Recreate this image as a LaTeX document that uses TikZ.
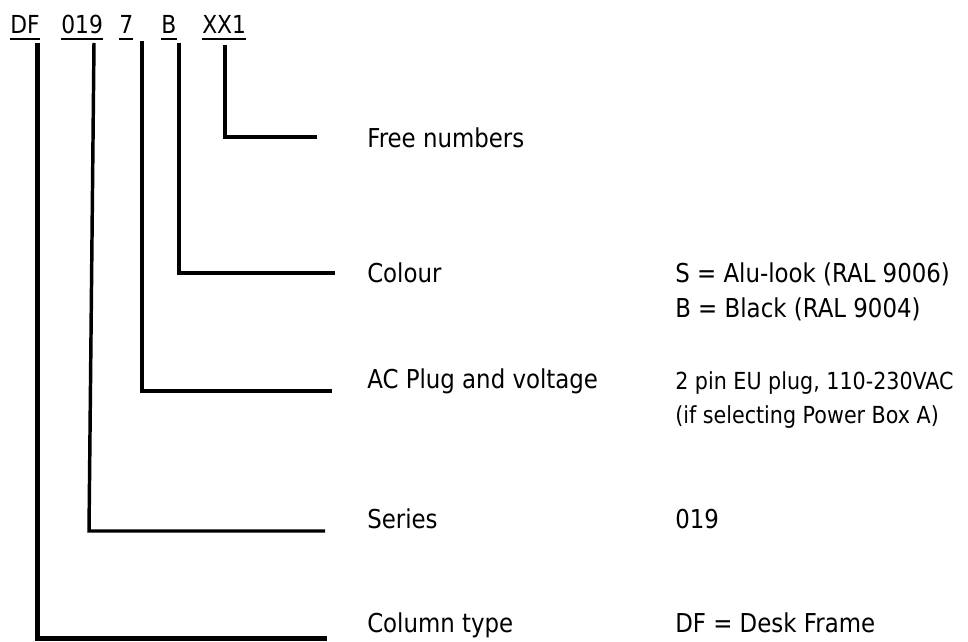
\documentclass[tikz,border=0pt]{standalone}
\usepackage{fontspec}
\setmainfont[FakeStretch=0.88]{DejaVu Sans}
\begin{document}
\begin{tikzpicture}[x=0.75pt, y=-0.75pt,
    code/.style={anchor=base west, inner sep=0pt, font=\fontsize{18.6}{22}\selectfont},
    field/.style={anchor=base west, inner sep=0pt, font=\fontsize{19.5}{23}\selectfont},
    info/.style={anchor=base west, inner sep=0pt, font=\fontsize{17.6}{21}\selectfont},
    uline/.style={line width=1.5pt},
    lead/.style={line width=3pt}]

    \useasboundingbox (0,0) rectangle (968,642);

    % --- Codice articolo (in alto) ---
    \node[code] (df)     at (10,34)  {DF};
    \node[code] (series) at (61,34)  {019};
    \node[code] (plug)   at (119,34) {7};
    \node[code] (colour) at (161,34) {B};
    \node[code] (free)   at (202,34) {XX1};

    % sottolineature
    \foreach \n in {df, series, plug, colour, free}
        \draw[uline] ([yshift=-3.75pt]\n.base west) -- ([yshift=-3.75pt]\n.base east);

    % --- Descrizioni (colonna centrale) ---
    \node[field] (freeTxt)   at (367,147) {Free numbers};
    \node[field] (colourTxt) at (367,282) {Colour};
    \node[field] (plugTxt)   at (367,388) {AC Plug and voltage};
    \node[field] (seriesTxt) at (367,528) {Series};
    \node[field] (dfTxt)     at (367,632) {Column type};

    % --- Valori (colonna destra) ---
    \node[field] (colourS) at (675,282) {S = Alu-look (RAL 9006)};
    \node[field] (colourB) at (675,317) {B = Black (RAL 9004)};
    \node[info]  (plugA)   at (675,389) {2 pin EU plug, 110-230VAC};
    \node[info]  (plugB)   at (675,423) {(if selecting Power Box A)};
    \node[field] (seriesV) at (675,528) {019};
    \node[field] (dfV)     at (675,632) {DF = Desk Frame};

    % --- Linee di richiamo ---
    \coordinate (freeTop)   at (225,45);  \coordinate (freeEnd)   at (317,137);
    \coordinate (colourTop) at (179,43);  \coordinate (colourEnd) at (335,273);
    \coordinate (plugTop)   at (142,41);  \coordinate (plugEnd)   at (332,391);
    \coordinate (seriesTop) at (94,43);   \coordinate (seriesBot) at (89,531);
    \coordinate (seriesEnd) at (325,531);
    \coordinate (dfTop)     at (37,43);   \coordinate (dfEnd)     at (327,638);

    \draw[lead] (freeTop) |- (freeEnd);
    \draw[lead] (colourTop) |- (colourEnd);
    \draw[lead, line width=2.8pt] (plugTop) |- (plugEnd);
    \draw[lead, line width=2.6pt] (seriesTop) -- (seriesBot) -- (seriesEnd);
    \draw[lead, line width=3.75pt] (dfTop) |- (dfEnd);

\end{tikzpicture}
\end{document}
